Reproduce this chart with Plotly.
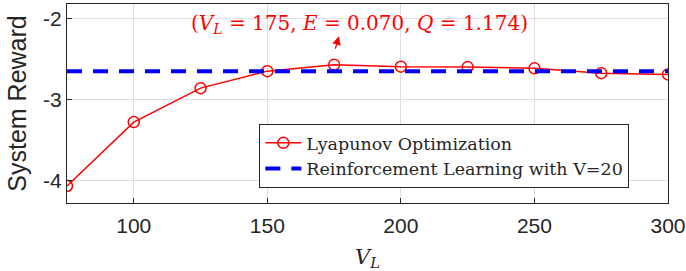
import plotly.graph_objects as go

vl = [75, 100, 125, 150, 175, 200, 225, 250, 275, 300]
lyapunov = [-4.07, -3.28, -2.86, -2.65, -2.57, -2.595, -2.60, -2.615, -2.675, -2.69]
rl_x = [75, 300]
rl_value = [-2.65, -2.65]
xticks = [100, 150, 200, 250, 300]
yticks = [-4, -3, -2]
yticklabels = ["-4", "-3", "-2"]

fig = go.Figure()
fig.add_trace(go.Scatter(
    x=vl, y=lyapunov, mode="lines+markers", name="Lyapunov Optimization",
    line=dict(color="#ff0000", width=1.5),
    marker=dict(symbol="circle-open", size=11, color="#ff0000", line=dict(width=1.5)),
))
fig.add_trace(go.Scatter(
    x=rl_x, y=rl_value, mode="lines", name="Reinforcement Learning with V=20",
    line=dict(color="#0000ff", width=4, dash="15px,11px"),
))

fig.add_annotation(
    x=0.487, y=-2.07, xref="paper", yref="y",
    text="(<i>V</i><sub><i>L</i></sub> = 175, <i>E</i> = 0.070, <i>Q</i> = 1.174)",
    showarrow=False, font=dict(family="DejaVu Serif", size=20, color="#ff0000"),
    yanchor="middle", xanchor="center",
)
fig.add_annotation(
    x=176.8, y=-2.22, xref="x", yref="y", ax=175.3, ay=-2.39, axref="x", ayref="y",
    text="", showarrow=True, arrowhead=2, arrowsize=1.3, arrowwidth=1.3, arrowcolor="#ff0000",
)

axis_common = dict(
    showline=True, linecolor="#262626", linewidth=1, mirror=True,
    showgrid=True, gridcolor="#dfdfdf", gridwidth=1,
    ticks="inside", ticklen=5, tickcolor="#262626",
    tickfont=dict(family="Liberation Sans", size=21, color="#262626"),
    zeroline=False, automargin=False,
)
fig.update_xaxes(range=[75, 300], tickvals=xticks, ticklabelstandoff=4,
                 title=dict(text="<i>V<sub>L</sub></i>", font=dict(family="DejaVu Serif", size=21, color="#262626"), standoff=14),
                 **axis_common)
fig.update_yaxes(range=[-4.28, -1.82], tickvals=yticks, ticktext=yticklabels,
                 title=dict(text="System Reward", font=dict(family="Liberation Sans", size=25, color="#262626"), standoff=9),
                 **axis_common)

fig.update_layout(
    width=686, height=271,
    margin=dict(l=67, r=18, t=4, b=68),
    paper_bgcolor="white", plot_bgcolor="white",
    showlegend=True,
    legend=dict(
        x=0.32, y=0.397, xanchor="left", yanchor="top",
        bgcolor="white", bordercolor="#262626", borderwidth=1,
        font=dict(family="DejaVu Serif", size=17.5, color="#262626"),
        tracegroupgap=0, itemwidth=36,
    ),
)
fig.write_html("out.html", post_script="document.body.style.margin='0px';",
               config={"displayModeBar": False})
